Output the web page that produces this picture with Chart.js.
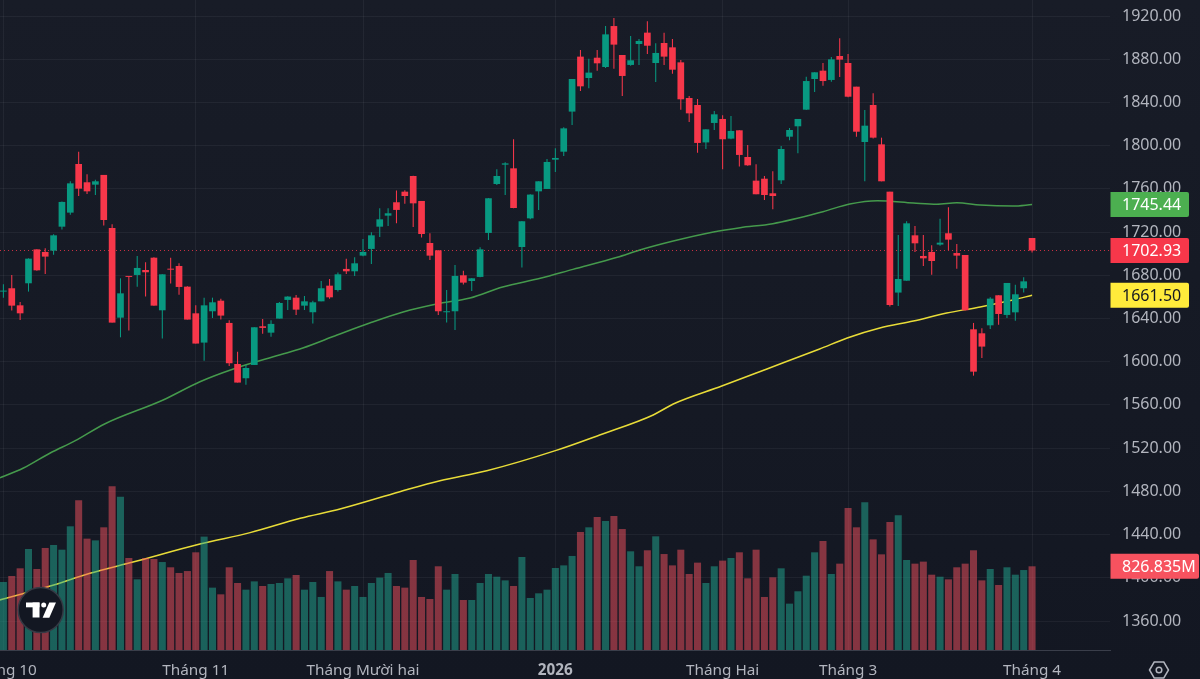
<!DOCTYPE html>
<html>
<head>
<meta charset="utf-8">
<style>
  html,body{margin:0;padding:0;background:linear-gradient(#181c27,#131722);overflow:hidden;height:679px}
  canvas{display:block}
</style>
<script src="https://cdn.jsdelivr.net/npm/chart.js@4/dist/chart.umd.min.js"></script>
</head>
<body>
<canvas id="myChart" width="1200" height="679"></canvas>
<script>
// candles, left to right
const opens=[1664.9,1668,1652.2,1672.6,1704,1701.6,1702.8,1725,1738,1783,1766.1,1763.9,1772.9,1723.8,1640.8,1679.4,1680.3,1684.9,1696.3,1647.6,
  1685.9,1688.6,1669.5,1644.8,1617.7,1646.7,1656.5,1635.9,1597.9,1584.7,1597,1632.8,1626.9,1639.9,1657.2,1659.3,1651.9,1645.8,1655.9,1670.4,
  1666.4,1685.9,1683.7,1698.2,1704.4,1725,1735.2,1747.6,1757.4,1771.9,1748.8,1709.9,1703.1,1645.8,1646.7,1680,1674.7,1678.5,1719.2,1764.5,
  1782.4,1779,1706.2,1732.7,1757.7,1759.9,1787,1794.4,1831.5,1882.4,1862.6,1881.4,1872.8,1910.7,1883.9,1874.7,1894.1,1904.6,1876.5,1895,
  1891,1877.1,1844.1,1837.6,1803,1821,1824.7,1806.5,1814.2,1789.5,1767.6,1769.4,1755.9,1767.9,1808.3,1817.9,1833.3,1861.7,1869.4,1860.8,
  1883,1876.5,1854.6,1803.4,1837.6,1801.2,1757.4,1664,1675,1717,1697.9,1701.6,1708.4,1718.9,1700.6,1698.8,1630,1626.3,1633.7,1661.5,
  1643.3,1645.7,1668,1714.5];
const highs=[1671.7,1680.3,1655.3,1695.7,1704,1705,1717.9,1748.2,1767,1794.4,1773.5,1768.5,1772.9,1727.2,1677.2,1679.4,1697.9,1692,1696.7,1680.9,
  1696.3,1691.1,1669.8,1652.2,1659.3,1659.3,1658.4,1638.3,1609.3,1597,1631.9,1639.6,1638.3,1655.3,1660.6,1661.8,1660.9,1656.5,1674.7,1676.6,
  1682.5,1695.4,1696.7,1713.6,1719.8,1742,1742,1758.4,1758.7,1772.2,1748.8,1718.9,1703.1,1666.4,1689.6,1684.3,1677.5,1705.9,1751.6,1778.1,
  1784.6,1805.9,1730.3,1755,1767,1787.7,1797.5,1817,1861.7,1888.5,1880.5,1888.5,1910.7,1918.1,1883.9,1901.5,1898.7,1915.1,1894.7,1904.6,
  1898.7,1879.3,1846,1843.2,1815.1,1832,1828.1,1827.4,1814.2,1800.6,1782.7,1771.9,1776.2,1799.7,1816.3,1824.7,1863.8,1867.9,1876.5,1882,
  1899.3,1884.8,1854.6,1833,1848.4,1807.4,1757.4,1717.3,1730,1725.6,1717.3,1707.7,1732.4,1742.9,1709,1698.8,1635.9,1630.9,1659.6,1661.5,
  1672.9,1671.3,1678.1,1714.5];
const lows=[1659.3,1647.3,1638.7,1664.9,1684.3,1681.2,1699.1,1722.3,1736.1,1753.4,1755.3,1754.3,1726,1636.2,1622.6,1628.8,1669.5,1660.3,1651.9,1621.4,
  1672.3,1662.1,1639,1616.8,1601,1640.5,1639,1596.1,1580.7,1578.8,1597,1626,1623.2,1639.9,1647.9,1643.3,1647.9,1635.3,1655.9,1658.4,
  1664.9,1681.2,1679.4,1697.6,1690.5,1715.5,1725.7,1728.1,1746.3,1724.7,1714.9,1694.2,1643.3,1636.2,1629.4,1671.4,1665.5,1678.1,1712.7,1763.6,
  1754.3,1742,1687.1,1731.8,1740.5,1759.9,1775.6,1790.4,1819.1,1850.6,1853.1,1869.4,1871.9,1871.2,1845.9,1874,1874.7,1884.8,1858.9,1874.7,
  1866.6,1833.3,1821.9,1793.5,1796.9,1814.5,1778.1,1805.9,1780.6,1781.5,1755,1749.7,1741.1,1764.5,1804.9,1792.9,1833,1849.6,1855.5,1859.2,
  1863.5,1844.7,1808.3,1767,1806.5,1767,1651,1651.6,1675,1701.6,1688.6,1680.6,1707.4,1703.4,1686.1,1647.3,1587.1,1603.4,1630.3,1634.3,
  1640.5,1638,1664,1701];
const closes=[1665.5,1651.9,1644.8,1695.4,1684.6,1697.3,1717,1747.9,1765.1,1760.2,1757.7,1767,1731.2,1636.2,1663.3,1678.5,1686.8,1682.8,1651.9,1680.9,
  1685.2,1669.2,1639,1616.8,1652.2,1655,1642.7,1598.6,1580.7,1594.2,1631.9,1631.3,1635,1654.4,1660.3,1648.2,1655.9,1655,1668,1659.6,
  1680.9,1683.7,1691.1,1701.6,1717,1731.8,1737.4,1740.5,1753.4,1746.6,1718.2,1698.2,1646.7,1646.7,1679.4,1673.2,1677.2,1704,1751.3,1771.9,
  1783.6,1742.3,1730,1754.7,1767,1784.9,1788.6,1816,1861.7,1854.9,1867.6,1876.2,1903,1893.5,1864.5,1879,1896.9,1892.5,1885.8,1882.4,
  1870.3,1842.9,1829.9,1802.5,1815.1,1829,1805.9,1813.6,1791.4,1781.8,1755,1754.3,1753.4,1796.9,1814.5,1824.7,1859.8,1867.9,1859.8,1879.9,
  1879.6,1845.3,1812.9,1818.5,1807.4,1767,1652.5,1676.6,1728.1,1709.6,1695.7,1693.2,1710.2,1713,1698.2,1647.6,1590.8,1614,1658.4,1644.2,
  1672.9,1662.4,1674.4,1702.93];
// volume in millions
const volumes=[672,731,807,998,800,1008,1037,991,1222,1479,1100,1083,1212,1617,1515,909,698,909,899,869,
  817,761,780,965,1120,616,550,817,662,596,678,632,652,662,708,741,596,672,524,780,
  678,596,632,524,662,715,761,632,616,889,524,504,827,596,751,494,494,662,751,724,
  688,632,919,514,560,596,810,836,929,1166,1212,1314,1274,1324,1195,975,827,985,1123,948,
  836,991,751,863,662,827,883,909,965,708,991,524,718,807,458,580,734,965,1077,751,
  853,1403,1212,1459,1093,945,1265,1330,889,853,873,744,724,698,817,853,985,688,800,642,
  817,744,790,826.835];
// moving averages at these bar positions
const maSlowBars=[-1,2.4,5.6,8.6,12.1,19.1,23.5,27.5,33,35.8,39.9,43.8,47.8,51.8,55.8,59.7,64.2,68.1,73.4,76.1,80.1,84.9,88.1,92,98,101.2,104.5,108.8,111.6,114,116.8,120.7,123];
const maSlow=[1490.8,1501.6,1515.5,1526.9,1542.4,1564.6,1581.5,1593.3,1606.2,1612.7,1624.7,1635.8,1646,1653.4,1659,1669.2,1677.2,1685.5,1696.7,1703.4,1711.7,1720.1,1724.1,1727.8,1738.9,1746,1749.1,1746.9,1745.7,1747.2,1745.1,1744.1,1745.44];
const maLongBars=[-1,5.6,10.35,15.5,23.5,29.5,35.5,40.25,47.4,52.2,57.8,66,71.3,77.7,80.1,85.9,91.3,97.6,100.9,104.8,108.8,112.8,116.8,120.7,123];
const maLong=[1378.3,1392.4,1404.2,1414.6,1431.3,1441.8,1455.1,1463.7,1479.7,1489.9,1499.1,1517.7,1532.2,1550.7,1560.9,1577.5,1593.3,1611.8,1622,1631.2,1637.7,1645.1,1650.7,1657.1,1661.5];

const lastPrice=1702.93;
const lastVolume='826.835M';
const priceTicks=[1920,1880,1840,1800,1760,1720,1680,1640,1600,1560,1520,1480,1440,1400,1360];
const monthBars=[0,23,43,66,86,101,123];
const monthLabels=['Tháng 10','Tháng 11','Tháng Mười hai','2026','Tháng Hai','Tháng 3','Tháng 4'];

const RED='#f7374a', GREEN='#089981', FONT='"Noto Sans"';
const bars=opens.map((o,i)=>i);
const isUp=i=>closes[i]>=opens[i];

// price tags on the right scale and the two small icons
const overlay={
  id:'overlay',
  afterDraw(chart){
    const c=chart.ctx, y=chart.scales.y, vol=chart.scales.vol;
    const tag=(py,w,bg,fg,txt)=>{
      c.fillStyle=bg;
      c.beginPath();
      c.roundRect(1110.5,py-12.5,w,25,[0,2,2,0]);
      c.fill();
      c.fillStyle=fg;
      c.font='16px '+FONT;
      c.textAlign='left';
      c.textBaseline='middle';
      c.fillText(txt,1122,py+1);
    };
    tag(y.getPixelForValue(maSlow[maSlow.length-1]),78.5,'#4caf50','#fff',maSlow[maSlow.length-1].toFixed(2));
    tag(y.getPixelForValue(lastPrice),78.5,RED,'#fff',lastPrice.toFixed(2));
    tag(y.getPixelForValue(maLong[maLong.length-1]),78.5,'#ffeb3b','#131722',maLong[maLong.length-1].toFixed(2));
    tag(vol.getPixelForValue(volumes[volumes.length-1]),88.5,'#f7525f','#fff',lastVolume);

    // logo
    c.beginPath();
    c.arc(40.7,610,22.5,0,Math.PI*2);
    c.fillStyle='#131722';
    c.fill();
    c.lineWidth=1.5;
    c.strokeStyle='#363a45';
    c.stroke();
    c.fillStyle='#fff';
    c.fillRect(26,602.5,13.5,4.8);
    c.fillRect(32.6,602.5,6.9,15);
    c.beginPath();
    c.arc(43.7,605,2.5,0,Math.PI*2);
    c.fill();
    c.beginPath();
    c.moveTo(49.3,602.5);c.lineTo(56,602.5);c.lineTo(49.3,617.8);c.lineTo(42.6,617.8);
    c.closePath();
    c.fill();

    // settings hexagon
    const cx=1159,cy=670;
    c.strokeStyle='#b2b5be';
    c.lineWidth=1.5;
    c.beginPath();
    [[-9.5,0],[-4.8,-8],[4.8,-8],[9.5,0],[4.8,8],[-4.8,8]].forEach((p,i)=>i?c.lineTo(cx+p[0],cy+p[1]):c.moveTo(cx+p[0],cy+p[1]));
    c.closePath();
    c.stroke();
    c.beginPath();
    c.arc(cx,cy,2.8,0,Math.PI*2);
    c.stroke();
  }
};

const xMin=-0.407, xMax=132.32;
const config={
  data:{
    datasets:[
      {type:'line',data:maSlowBars.map((b,i)=>({x:b,y:maSlow[i]})),borderColor:'#459a4c',borderWidth:1.5,pointRadius:0,cubicInterpolationMode:'monotone',order:6},
      {type:'line',data:maLongBars.map((b,i)=>({x:b,y:maLong[i]})),borderColor:'#e8dc38',borderWidth:1.5,pointRadius:0,cubicInterpolationMode:'monotone',order:5},
      {type:'line',data:[{x:xMin,y:lastPrice},{x:xMax,y:lastPrice}],borderColor:'rgba(247,55,74,.8)',borderWidth:1,borderDash:[1,3],pointRadius:0,order:4},
      {type:'bar',yAxisID:'vol',grouped:false,barPercentage:.84,categoryPercentage:1,order:3,
        data:bars.map(i=>({x:i,y:volumes[i]})),
        backgroundColor:bars.map(i=>isUp(i)?'rgba(34,171,148,.5)':'rgba(247,82,95,.5)')},
      {type:'bar',grouped:false,barPercentage:.125,categoryPercentage:1,order:2,
        data:bars.map(i=>({x:i,y:[lows[i],highs[i]]})),
        backgroundColor:bars.map(i=>isUp(i)?GREEN:RED)},
      {type:'bar',grouped:false,barPercentage:.8,categoryPercentage:1,order:1,minBarLength:1,
        data:bars.map(i=>({x:i,y:[Math.min(opens[i],closes[i]),Math.max(opens[i],closes[i])]})),
        backgroundColor:bars.map(i=>isUp(i)?GREEN:RED)}
    ]
  },
  options:{
    responsive:false,
    animation:false,
    events:[],
    layout:{padding:0},
    plugins:{legend:{display:false},tooltip:{enabled:false}},
    scales:{
      x:{
        type:'linear',min:xMin,max:xMax,offset:false,
        grid:{color:'rgba(255,255,255,.05)',drawTicks:false,offset:false},
        border:{color:'#3a3e4a'},
        afterBuildTicks(s){s.ticks=monthBars.map(v=>({value:v}))},
        afterFit(s){s.height=29;s.paddingLeft=0;s.paddingRight=0},
        ticks:{
          autoSkip:false,maxRotation:0,minRotation:0,padding:11,color:'#b2b5be',
          font:ctx=>({family:FONT,size:15.3,weight:monthLabels[ctx.index]==='2026'?'bold':'normal'}),
          callback:(v,i)=>monthLabels[i]
        }
      },
      y:{
        position:'right',min:1333.17,max:1934.81,
        grid:{color:'rgba(255,255,255,.05)',drawTicks:false},
        border:{display:false},
        afterBuildTicks(s){s.ticks=priceTicks.map(v=>({value:v}))},
        afterFit(s){s.width=90;s.paddingTop=0;s.paddingBottom=0},
        ticks:{padding:12,color:'#b2b5be',font:{family:FONT,size:16},callback:v=>v.toFixed(2)}
      },
      vol:{display:false,min:0,max:6421}
    }
  },
  plugins:[overlay]
};
const myChart=new Chart(document.getElementById('myChart'),config);
</script>
</body>
</html>
